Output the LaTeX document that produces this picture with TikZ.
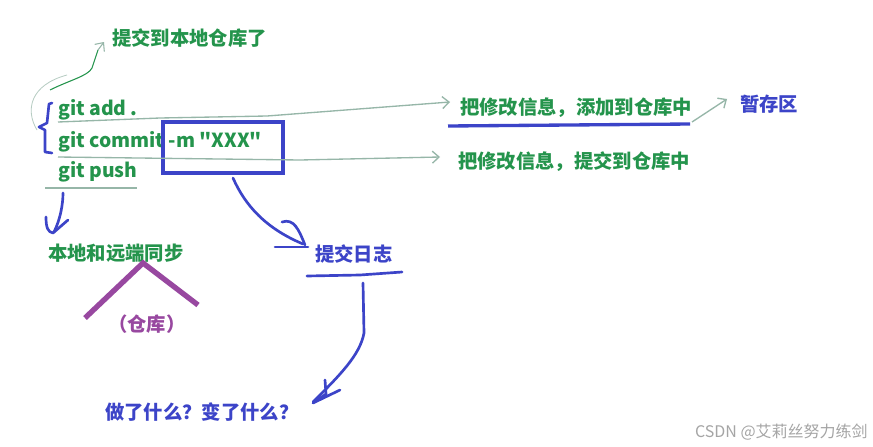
\documentclass[tikz,border=0pt]{standalone}
\usepackage{fontspec}
\setmainfont{Noto Sans CJK SC}[Ligatures=TeXOff]
\usetikzlibrary{arrows.meta}
\definecolor{tgreen}{RGB}{36,148,76}
\definecolor{tblue}{RGB}{60,68,200}
\definecolor{tpurple}{RGB}{152,72,160}
\definecolor{tgray}{RGB}{150,182,168}
\definecolor{wm}{RGB}{165,165,165}
\begin{document}
\begin{tikzpicture}[x=0.75pt,y=-0.75pt,
  gtxt/.style={font=\fontsize{14.5}{16}\selectfont\bfseries, text=tgreen, inner sep=0pt, anchor=west},
  btxt/.style={gtxt, text=tblue},
  ptxt/.style={gtxt, text=tpurple},
  glink/.style={draw=tgray, line width=1pt},
  bpen/.style={draw=tblue, line width=2pt, line cap=round, line join=round},
  ppen/.style={draw=tpurple, line width=4pt},
  openhead/.style={-{Straight Barb[length=5pt,width=9pt]}}
]
\path[use as bounding box, fill=white] (0,0) rectangle (873,446);

% texts
\node[gtxt] (local) at (112,38) {提交到本地仓库了};
\node[gtxt] (add) at (58,110) {git add .};
\node[gtxt] (commit) at (58,142) {git commit -m "XXX"};
\node[gtxt] (push) at (58,172) {git push};
\node[gtxt] (addinfo) at (460,108) {把修改信息，添加到仓库中};
\node[btxt] (stage) at (740,104) {暂存区};
\node[gtxt] (commitinfo) at (458,162) {把修改信息，提交到仓库中};
\node[gtxt] (sync) at (48,253) {本地和远端同步};
\node[ptxt] (repo) at (108,324) {（仓库）};
\node[btxt] (log) at (315,254) {提交日志};
\node[btxt] (what) at (105,412) {做了什么？变了什么？};
\node[font=\fontsize{12}{14}\selectfont, text=wm, anchor=east, inner sep=0pt] (wmark) at (868,432) {CSDN @艾莉丝努力练剑};

% box around -m "XXX"
\node[draw=tblue, line width=2.5pt, minimum width=90pt, minimum height=38.25pt, inner sep=0pt] (box) at (223,147.5) {};

% free ends
\coordinate (upend) at (104,42);
\coordinate (a1) at (450,102);
\coordinate (c1) at (440,157);

% green arrow to 提交到本地仓库了
\draw[tgreen, line width=0.8pt] (50,90) .. controls (70,80) and (88,76) .. (92,68) -- (98,50);
\draw[tgray, line width=0.8pt, openhead] (98,50) -- (upend);
\draw[tgray!70, line width=0.6pt] (67,75) .. controls (30,85) and (25,110) .. (37,130);

% blue bracket
\draw[bpen] (52,103) -- (49,104) -- (47,123) -- (39,127) -- (45,130) -- (45,152) -- (52,153);

% links
\draw[glink, openhead] (58,122) -- (160,118) -- (267,116) -- (a1);
\draw[glink, openhead] (58,157) -- (300,160) -- (c1);
\draw[tgray, line width=1.5pt] (45,188) -- (137,188);

% 暂存区
\draw[tblue, line width=2.5pt] (448,126) -- (690,124);
\draw[glink, openhead] (692,122) -- (727,99);

% box -> 提交日志
\draw[bpen] (233,178) .. controls (245,205) and (265,228) .. (303,244);
\draw[bpen] (282,222) .. controls (294,218) and (299,230) .. (305,245);
\draw[bpen] (275,247) -- (308,247);
\draw[bpen] (307,276) -- (360,275) -- (402,272);

% 提交日志 -> 做了什么
\draw[bpen] (363,283) -- (364,333) .. controls (360,355) and (340,375) .. (313,402);
\draw[bpen] (325,380) -- (326,394) -- (313,403) -- (340,390);

% git push -> 本地和远端同步
\draw[bpen] (63,193) .. controls (63,205) and (60,220) .. (54,232);
\draw[bpen] (46,217) .. controls (46,228) and (48,232) .. (53,233) -- (68,220);

% purple roof
\draw[ppen] (85,318) -- (143,263) -- (198,305);
\end{tikzpicture}
\end{document}
